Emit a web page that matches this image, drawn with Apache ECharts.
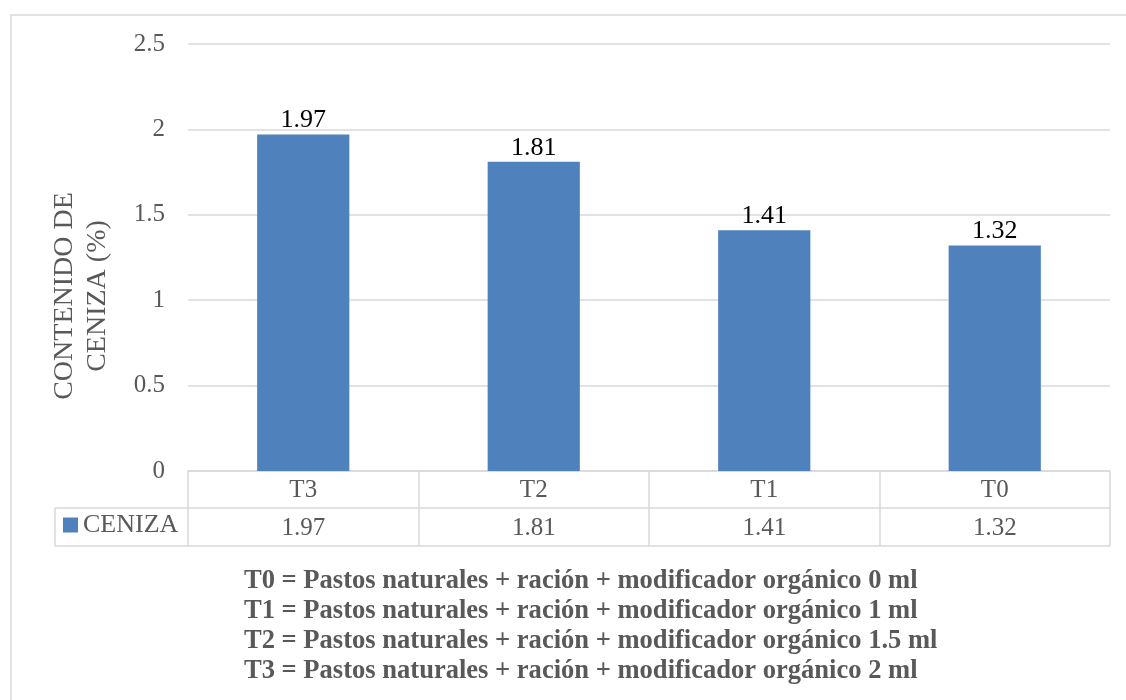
<!DOCTYPE html>
<html>
<head>
<meta charset="utf-8">
<script src="https://cdn.jsdelivr.net/npm/echarts@6/dist/echarts.min.js"></script>
<style>html,body{margin:0;padding:0;background:#fff}#c{width:1126px;height:700px}</style>
</head>
<body>
<div id="c"></div>
<script>
// ---- data ----
var categories = ['T3', 'T2', 'T1', 'T0'];
var cenizaValues = [1.97, 1.81, 1.41, 1.32];
var seriesName = 'CENIZA';
var yTicks = [0, 0.5, 1, 1.5, 2, 2.5];
var yAxisTitle = 'CONTENIDO DE\nCENIZA (%)';
var footnotes = [
  'T0 = Pastos naturales + ración + modificador orgánico 0 ml',
  'T1 = Pastos naturales + ración + modificador orgánico 1 ml',
  'T2 = Pastos naturales + ración + modificador orgánico 1.5 ml',
  'T3 = Pastos naturales + ración + modificador orgánico 2 ml'
];

// ---- layout/styles ----
var FONT = '"Liberation Serif", "Times New Roman", serif';
var GRAY = '#595959';
var LINE = '#d9d9d9';
var G = { left: 188, right: 16, top: 44, bottom: 229 };
var W = 1126, H = 700;
var axisY = H - G.bottom;      // 471
var row1 = axisY + 37;          // 508
var row2 = axisY + 75;          // 546
var tableLeft = 55;
var plotRight = W - G.right;

var chart = echarts.init(document.getElementById('c'), null, { renderer: 'canvas' });

var graphics = [
  { type: 'rect', shape: { x: 11, y: 15, width: 1300, height: 900 },
    style: { fill: 'none', stroke: LINE, lineWidth: 1.5 }, silent: true },
  { type: 'line', shape: { x1: tableLeft, y1: row1, x2: plotRight, y2: row1 },
    style: { stroke: LINE, lineWidth: 1.5 } },
  { type: 'line', shape: { x1: tableLeft, y1: row2, x2: plotRight, y2: row2 },
    style: { stroke: LINE, lineWidth: 1.5 } },
  { type: 'line', shape: { x1: tableLeft, y1: row1, x2: tableLeft, y2: row2 },
    style: { stroke: LINE, lineWidth: 1.5 } },
  { type: 'text', x: 81, y: 296, rotation: Math.PI / 2,
    style: { text: yAxisTitle, fill: GRAY, font: '28px ' + FONT, lineHeight: 33,
      textAlign: 'center', textVerticalAlign: 'middle' } }
];
footnotes.forEach(function (t, i) {
  graphics.push({
    type: 'text', x: 244, y: 581 + i * 29.8, scaleX: 0.948,
    style: { text: t, fill: GRAY, font: 'bold 28px ' + FONT, textVerticalAlign: 'middle', textAlign: 'left' }
  });
});

chart.setOption({
  animation: false,
  backgroundColor: '#fff',
  grid: { left: G.left, right: G.right, top: G.top, bottom: G.bottom, containLabel: false },
  legend: {
    data: [seriesName], left: 63, top: 512, padding: 0,
    icon: 'rect', itemWidth: 15, itemHeight: 15, itemGap: 5,
    textStyle: { fontFamily: FONT, fontSize: 26, color: GRAY, padding: [0, 0, 0, 0] },
    selectedMode: false
  },
  xAxis: [
    {
      type: 'category', data: categories, position: 'bottom',
      axisLine: { show: true, lineStyle: { color: LINE, width: 1.5 } },
      axisTick: { show: true, length: 75, interval: 0, lineStyle: { color: LINE, width: 1.5 } },
      axisLabel: { interval: 0, margin: 6, fontFamily: FONT, fontSize: 25, lineHeight: 26, color: GRAY }
    },
    {
      type: 'category', data: cenizaValues.map(function (v) { return v.toFixed(2); }), position: 'bottom',
      axisLine: { show: false }, axisTick: { show: false },
      axisLabel: { interval: 0, margin: 44, fontFamily: FONT, fontSize: 25, lineHeight: 26, color: GRAY }
    }
  ],
  yAxis: {
    type: 'value', min: yTicks[0], max: yTicks[yTicks.length - 1], interval: yTicks[1] - yTicks[0],
    axisLine: { show: false }, axisTick: { show: false },
    axisLabel: { margin: 23, fontFamily: FONT, fontSize: 25, color: GRAY },
    splitLine: { show: true, lineStyle: { color: LINE, width: 1.5 } }
  },
  series: [{
    name: seriesName, type: 'bar', data: cenizaValues, barWidth: '40%',
    itemStyle: { color: '#4f81bd' },
    label: { show: true, position: 'top', distance: 1, fontFamily: FONT, fontSize: 26, color: '#000',
      formatter: function (p) { return p.value.toFixed(2); } }
  }],
  graphic: graphics
});
</script>
</body>
</html>
